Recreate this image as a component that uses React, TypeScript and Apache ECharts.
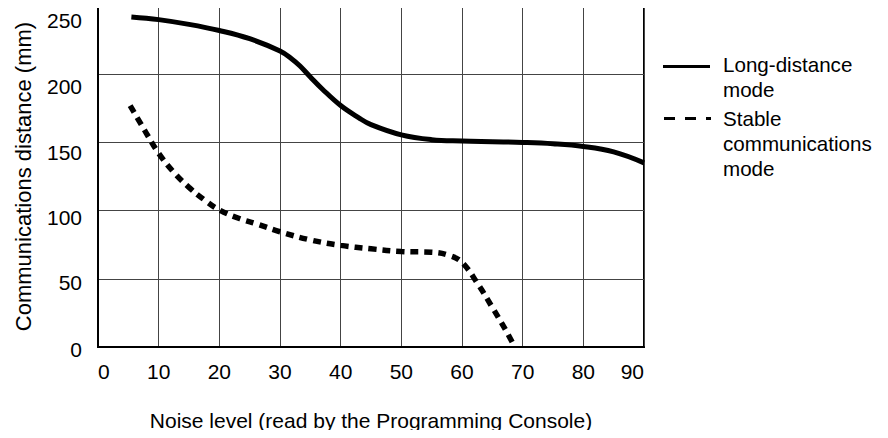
import React, { useEffect, useRef } from "react";
import * as echarts from "echarts";

const longX = [5.5, 10, 15, 20, 25, 30, 32, 33.3, 35, 37, 40, 43, 45, 50, 55, 60, 65, 70, 75, 80, 85, 90];
const longY = [242, 240, 236.5, 232, 226, 217, 211, 206, 198, 189, 177, 168, 163, 155.5, 152, 151, 150.5, 150, 149, 147, 143, 135];

const stableX = [5.3, 8, 10, 12.5, 15, 17.5, 20, 23.4, 26, 30, 35, 40, 45, 50, 55, 58, 60, 62.5, 65, 67, 68.7];
const stableY = [177, 156.5, 142, 128, 117, 108, 100.5, 94, 90.5, 84.5, 78.5, 74.5, 72, 70, 69.5, 67, 62, 47, 29, 14, 0];

const yTickValues = [0, 50, 100, 150, 200, 250];
const seriesNames = ["Long-distance mode", "Stable communications mode"];
const xTitle = "Noise level (read by the Programming Console)";
const yTitle = "Communications distance (mm)";

const FONT = "Liberation Sans, Arial, Helvetica, sans-serif";
// downward shift (px) of each y tick label relative to its grid line
const yLabelShift = [2, 4, 7, 10, 12, 14];

export default function App() {
  const ref = useRef<HTMLDivElement>(null);
  useEffect(() => {
    if (!ref.current) return;
    const chart = echarts.init(ref.current, undefined, { renderer: "svg" });
    const rich: Record<string, any> = {};
    yTickValues.forEach((v, i) => {
      rich["o" + v] = {
        fontSize: 21,
        color: "#000",
        fontFamily: FONT,
        padding: [yLabelShift[i] * 2, 0, 0, 0],
      };
    });
    chart.setOption({
      animation: false,
      textStyle: { fontFamily: FONT },
      grid: {
        left: 98,
        top: 6,
        width: 546,
        height: 341,
        show: true,
        borderColor: "#000",
        borderWidth: 2,
        backgroundColor: "transparent",
      },
      xAxis: {
        type: "value",
        min: 0,
        max: 90,
        interval: 10,
        name: xTitle,
        nameLocation: "middle",
        nameGap: 63,
        nameTextStyle: { fontSize: 21, color: "#000", fontFamily: FONT },
        axisLine: { show: true, lineStyle: { color: "#000", width: 2 } },
        axisTick: { show: false },
        axisLabel: {
          fontSize: 21,
          color: "#000",
          margin: 14,
          fontFamily: FONT,
          alignMinLabel: "left",
          alignMaxLabel: "right",
        },
        splitLine: { show: true, lineStyle: { color: "#444", width: 1 } },
      },
      yAxis: {
        type: "value",
        min: 0,
        max: 250,
        interval: 50,
        name: yTitle,
        nameLocation: "middle",
        nameGap: 64,
        nameRotate: 90,
        nameTextStyle: { fontSize: 22, color: "#000", fontFamily: FONT },
        axisLine: { show: true, lineStyle: { color: "#000", width: 2 } },
        axisTick: { show: false },
        axisLabel: {
          fontSize: 21,
          color: "#000",
          margin: 16,
          fontFamily: FONT,
          formatter: (v: number) => `{o${v}|${v}}`,
          rich,
        },
        splitLine: { show: true, lineStyle: { color: "#444", width: 1 } },
      },
      series: [
        {
          name: seriesNames[0],
          type: "line",
          data: longX.map((x, i) => [x, longY[i]]),
          smooth: 0.4,
          showSymbol: false,
          symbol: "none",
          lineStyle: { color: "#000", width: 5 },
        },
        {
          name: seriesNames[1],
          type: "line",
          data: stableX.map((x, i) => [x, stableY[i]]),
          smooth: 0.4,
          showSymbol: false,
          symbol: "none",
          lineStyle: { color: "#000", width: 5.5, type: [8, 6] },
        },
      ],
      graphic: [
        {
          type: "line",
          shape: { x1: 663, y1: 66.5, x2: 710, y2: 66.5 },
          style: { stroke: "#000", lineWidth: 3 },
        },
        {
          type: "text",
          x: 723,
          y: 52,
          style: {
            text: "Long-distance\nmode",
            fontSize: 20.6,
            lineHeight: 25,
            fill: "#000",
            fontFamily: FONT,
            verticalAlign: "top",
            align: "left",
          },
        },
        {
          type: "line",
          shape: { x1: 664, y1: 118.5, x2: 711, y2: 118.5 },
          style: { stroke: "#000", lineWidth: 3, lineDash: [11, 10] },
        },
        {
          type: "text",
          x: 723,
          y: 105.5,
          style: {
            text: "Stable\ncommunications\nmode",
            fontSize: 20.6,
            lineHeight: 25,
            fill: "#000",
            fontFamily: FONT,
            verticalAlign: "top",
            align: "left",
          },
        },
      ],
    });
    return () => chart.dispose();
  }, []);
  return <div ref={ref} style={{ width: 888, height: 438, margin: -8 }} />;
}
